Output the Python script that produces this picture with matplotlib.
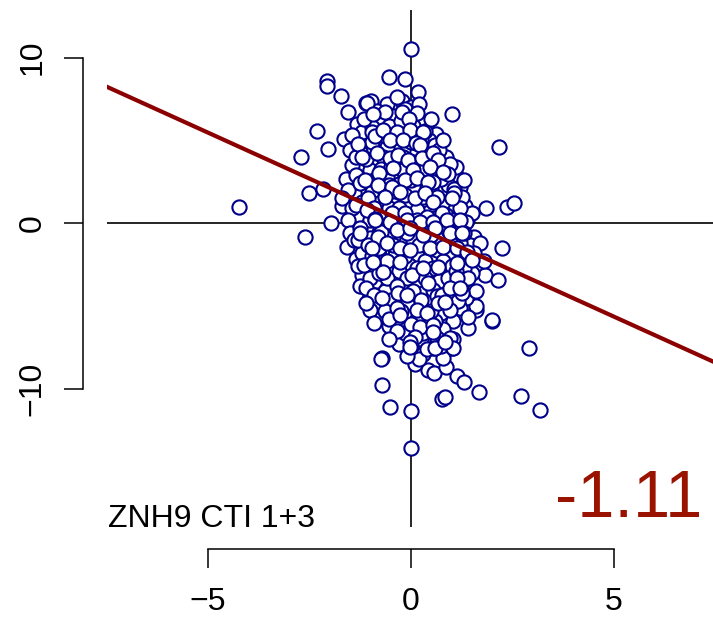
import matplotlib
matplotlib.use("Agg")
import matplotlib.pyplot as plt
import numpy as np

# ---------------------------------------------------------------------------
# data
# ---------------------------------------------------------------------------
outlier_x = [0.0, -2.07, -2.07, -1.73, -0.54, -0.15, -1.56, -0.99, -2.32, -2.04,
             -1.64, -2.72, -2.51, -2.17, -4.25, -1.69, -1.98, -1.34, -0.23, 0.16,
             1.02, 2.18, 0.61, 0.96, 1.13, 1.84, 2.36, 2.54, 1.33, 0.71,
             1.07, 1.14, 1.37, -2.61, -1.57, -1.35, -1.21, -1.01, -1.06, -0.74,
             -0.83, -0.80, -0.41, -0.13, -0.72, -0.74, -0.71, -0.52, 0.0, 0.0,
             0.0, 0.0, 2.25, 1.82, 2.15, 1.60, 1.60, 1.99, 2.00, 1.41,
             1.04, 2.91, 0.43, 0.57, 0.85, 1.14, 1.31, 1.67, 0.76, 0.84,
             2.70, 3.18, 0.55, 1.00, 1.04]
outlier_y = [10.5, 8.6, 8.3, 7.7, 8.8, 8.7, 6.7, 7.4, 5.6, 4.5,
             5.1, 4.0, 1.8, 2.1, 0.96, 1.04, 0.0, 6.0, 7.4, 7.9,
             6.6, 4.6, 5.4, 2.9, 2.8, 0.9, 1.0, 1.24, 1.06, 1.9,
             1.4, 0.3, 0.2, -0.84, -1.4, -2.15, -3.1, -4.4, -4.7, -4.6,
             -5.8, -5.6, -6.9, -6.4, -8.1, -8.2, -9.75, -11.1, -11.3, -13.57,
             -7.3, -7.5, -1.5, -3.1, -3.4, -5.2, -5.0, -5.9, -5.85, -6.3,
             -5.9, -7.5, -8.85, -9.05, -8.65, -9.2, -9.6, -10.16, -10.6, -10.45,
             -10.4, -11.26, -7.5, -7.5, -7.0]

upper_x = [-1.10, -1.09, -0.93, -0.23, 0.14, -0.04, -0.89, -0.68, -0.35, -0.02,
           0.30, -1.30, -0.52, -0.19, 0.12, 0.22, -1.21, -0.84, -0.52, -0.31,
           -0.07, 0.26, 0.55, 0.67, -0.78, -0.44, 0.06, 0.47, 0.80, -1.26,
           -1.13, -0.81, -0.48, -0.15, 0.14, 0.43, -0.64, -0.27, 0.10, 0.34,
           0.55, 1.00, -1.09, -0.89, -0.48, -0.15, 0.14, 0.39, 0.76, -1.26]
upper_y = [7.25, 7.24, 6.57, 6.73, 6.63, 6.27, 5.27, 5.63, 5.49, 5.63,
           5.52, 4.78, 5.02, 5.02, 4.83, 4.72, 4.02, 4.22, 3.92, 4.12,
           3.82, 3.92, 4.26, 3.82, 3.02, 3.32, 3.21, 3.41, 3.11, 2.41,
           2.61, 2.31, 2.21, 2.61, 2.71, 2.51, 1.60, 1.91, 1.51, 1.81,
           1.30, 1.51, 0.80, 0.24, 0.60, 0.60, 0.20, 0.40, 0.60, -0.30]

lower_x = [-0.89, -0.52, -0.11, 0.22, 0.55, 0.88, 1.21, -1.26, -0.81, -0.35,
           -0.02, 0.30, 0.59, 0.96, 1.25, -0.97, -0.60, -0.27, -0.02, 0.47,
           0.80, 1.13, 1.37, -0.93, -0.68, -0.27, 0.02, 0.30, 0.67, 1.13,
           1.50, -0.72, -0.31, -0.11, 0.43, 0.76, 1.13, 0.96, 1.21, -0.35,
           0.14, 0.39, 0.67, 0.84, 1.41, -0.27, 0.22, 0.55, 0.10, 0.55,
           1.04, -0.02, -0.02, 0.59, 0.84]
lower_y = [0.20, 0.10, 0.20, 0.10, 0.10, 0.20, 0.20, -0.60, -0.81, -0.40,
           -0.30, -0.71, -0.30, -0.60, -0.60, -1.51, -1.21, -1.51, -1.61, -1.51,
           -1.41, -1.51, -1.71, -2.32, -2.92, -2.32, -3.12, -2.71, -2.62, -2.41,
           -2.21, -4.52, -4.22, -4.32, -3.62, -4.32, -3.32, -3.92, -3.92, -5.13,
           -5.23, -5.43, -4.83, -4.73, -5.63, -5.53, -6.24, -6.13, -6.84, -6.54,
           -7.54, -7.14, -7.44, -7.54, -7.14]

core_x = [-0.60, -0.10, 0.35, -0.90, -0.35, 0.20, 0.60, -1.00, -0.60, -0.15,
          0.30, 0.90, -1.40, -0.95, -0.30, 0.05, 0.50, -1.20, -0.80, -0.45,
          -0.05, 0.25, 0.65, 1.00, -1.30, -0.70, -0.30, 0.00, 0.45, 0.85,
          -1.10, -0.60, -0.20, 0.15, 0.75, 1.05, -1.00, -0.45, 0.05, 0.40,
          0.70, 1.10, -1.20, -0.80, -0.40, 0.15, 0.60, 0.95, -1.00, -0.50,
          -0.05, 0.50, 0.85, -0.85, -0.40, 0.10, 0.70, -0.60, -0.15, 0.30,
          -0.85, -0.50, 0.00, 0.45, 1.00, -0.55, 0.30, 0.75, -0.20, 0.80,
          -0.75, -0.45, 0.30, -1.20, -0.95, 0.00, -0.60, 0.45, -1.50, -1.45,
          -1.60, -1.55, -1.70, -1.45, -1.55, -1.50, -0.30, 0.60, 0.85, 1.10,
          1.20, 1.25, 1.50, 1.55, 1.45, 1.50, 1.35, 1.20, 0.95, 0.25,
          -0.30, 0.30, 0.80, 0.10, -0.35, 0.60, -0.65, -1.25, -1.30, -1.40,
          1.30, 1.70, 1.80, 1.60]
core_y = [4.60, 4.40, 4.10, 3.60, 3.60, 3.50, 3.00, 3.20, 2.80, 2.90,
          2.90, 2.30, 1.80, 1.90, 2.40, 2.20, 2.10, 1.30, 1.20, 1.10,
          1.20, 1.00, 0.90, 0.90, 0.50, 0.40, 0.30, 0.50, 0.70, 0.50,
          -0.20, -0.30, -0.10, -0.40, -0.20, -0.30, -0.90, -0.80, -1.00, -1.10,
          -0.90, -1.00, -1.80, -1.90, -1.90, -2.00, -2.00, -2.00, -2.60, -2.70,
          -2.50, -3.00, -2.90, -3.50, -3.40, -3.70, -3.50, -3.90, -3.90, -4.20,
          -4.90, -5.00, -5.50, -4.70, -4.40, -6.20, -6.00, -5.40, -6.00, -6.40,
          6.20, 6.50, 6.00, 5.50, 5.80, 7.00, 7.20, 5.00, 4.40, 3.50,
          2.70, 2.00, 1.50, 0.90, 0.20, -0.60, 5.90, 4.70, 4.00, 3.40,
          2.20, 1.60, 0.60, -0.80, -1.30, -3.00, -4.50, -5.10, -6.90, -7.00,
          -7.30, -7.90, -8.10, -8.50, -5.70, -5.90, -4.10, -3.80, -2.60, -1.00,
          -2.70, -1.20, -2.30, -4.10]

dense_x = [-1.15, -0.85, -0.55, -0.25, 0.05, 0.35, 0.50, -0.70, -0.95, -0.40,
           -0.05, 0.25, 0.70, -1.25, -0.70, -0.20, 0.15, 0.45, 0.95, -1.10,
           -0.75, -0.20, 0.30, 0.75, -1.35, -0.90, -0.55, 0.00, 0.55, 1.05,
           -1.05, -0.65, -0.15, 0.30, 0.80, 1.20, -1.35, -0.90, -0.55, 0.15,
           0.60, 1.00, -1.00, -0.40, 0.30, 0.90, -1.30, -0.75, -0.10, 0.50,
           1.20, -1.05, -0.45, 0.20, 0.65, 0.95, -0.95, -0.60, -0.15, 0.35,
           0.80, 1.30, -1.15, -0.30, 0.15, 0.55, 1.00, -1.00, -0.60, -0.10,
           0.35, 0.90, 1.25, -1.10, -0.35, 0.05, 0.55, 0.95, -0.90, -0.50,
           -0.10, 0.25, 0.65, 1.15, -0.65, -0.25, 0.15, 0.50, 0.95, -0.55,
           -0.15, 0.45, 0.65, -0.35, 0.30, 0.00, -1.00, -0.80, 1.10, 1.05,
           0.65, -0.30, 0.40, -0.80, 0.05, -0.50, -0.95, -0.15, 0.20, -0.35,
           -0.65, -1.45, -1.35, 0.00, 0.80, 0.90, 1.30, 1.35, 1.30, 1.55,
           1.40, 1.25, 0.75, 0.20, -0.10, 0.40, -0.55, -0.90, -1.10]
dense_y = [6.30, 6.80, 5.90, 6.20, 5.90, 5.60, 6.30, 5.30, 4.90, 5.20,
           5.30, 5.10, 4.40, 4.30, 4.00, 4.00, 4.30, 3.70, 3.60, 3.90,
           3.30, 3.20, 3.30, 2.70, 2.90, 2.60, 2.30, 2.60, 2.50, 2.10,
           1.50, 1.90, 1.70, 1.60, 1.30, 0.90, 1.10, 0.90, 0.90, 0.80,
           0.30, 0.20, 0.20, -0.20, -0.10, -0.40, -1.00, -0.50, -0.60, -0.70,
           -1.20, -1.30, -1.30, -1.30, -1.60, -1.10, -2.00, -2.30, -2.00, -2.30,
           -2.30, -2.00, -2.50, -2.90, -2.70, -2.70, -2.60, -3.30, -3.30, -3.30,
           -3.30, -3.30, -3.60, -3.90, -3.80, -4.10, -4.00, -4.10, -4.30, -4.60,
           -4.80, -4.60, -4.40, -4.70, -5.30, -5.30, -5.80, -5.30, -5.20, -5.80,
           -6.60, -6.50, -6.90, -6.50, -6.60, -6.10, -5.20, -3.00, -2.90, 1.80,
           1.60, 0.90, 0.30, -1.50, 3.70, 3.40, 5.50, 6.90, 7.20, 7.60,
           6.70, 5.30, 4.00, 4.90, 5.00, 3.00, 2.60, 0.10, -0.60, -1.80,
           -3.30, -4.20, -7.40, -8.20, -8.00, -7.60, -7.00, -6.00, -4.80]

slope = -1.11
intercept = -0.08
label = "ZNH9 CTI 1+3"

x = np.array(outlier_x + core_x + dense_x + upper_x + lower_x)
y = np.array(outlier_y + core_y + dense_y + upper_y + lower_y)

# ---------------------------------------------------------------------------
# plot
# ---------------------------------------------------------------------------
plt.rcParams['font.family'] = ['Liberation Sans', 'DejaVu Sans']

W, H = 713, 626
fig = plt.figure(figsize=(W / 100, H / 100), dpi=100)
ax = fig.add_axes([107 / W, 1 - 527 / H, (713 - 107) / W, (527 - 10) / H])

ax.set_xlim(-7.49, 7.44)
ax.set_ylim(-18.32, 12.87)

ax.axhline(0, color='black', lw=1.2, zorder=1)
ax.axvline(0, color='black', lw=1.2, zorder=1)

ax.scatter(x, y, s=105, facecolors='white', edgecolors='#00008B',
           linewidths=1.5, zorder=2)

ax.axline((0, intercept), slope=slope, color='#8B0000', lw=3.0, zorder=3)

ax.text(0.0015, 0.0, label, transform=ax.transAxes, fontsize=23,
        ha='left', va='baseline')
ax.text(0.982, 0.019, f"{slope:.2f}", transform=ax.transAxes,
        fontsize=48, color='#9A1200', ha='right', va='baseline')

# R-style axes: detached, bounded spines
for side in ('top', 'right'):
    ax.spines[side].set_visible(False)
ax.spines['left'].set_position(('outward', 17.3))
ax.spines['bottom'].set_position(('outward', 15.8))
ax.spines['left'].set_bounds(-10, 10)
ax.spines['bottom'].set_bounds(-5, 5)
for side in ('left', 'bottom'):
    ax.spines[side].set_linewidth(1.1)

ax.set_xticks([-5, 0, 5])
ax.set_yticks([-10, 0, 10])
ax.set_xticklabels(['\u22125', '0', '5'])
ax.set_yticklabels(['\u221210', '0', '10'], rotation=90, va='center')
ax.tick_params(direction='out', length=13.7, width=1.1, labelsize=23)
ax.tick_params(axis='x', pad=14)
ax.tick_params(axis='y', pad=12)

fig.savefig('out.png', dpi=100)
